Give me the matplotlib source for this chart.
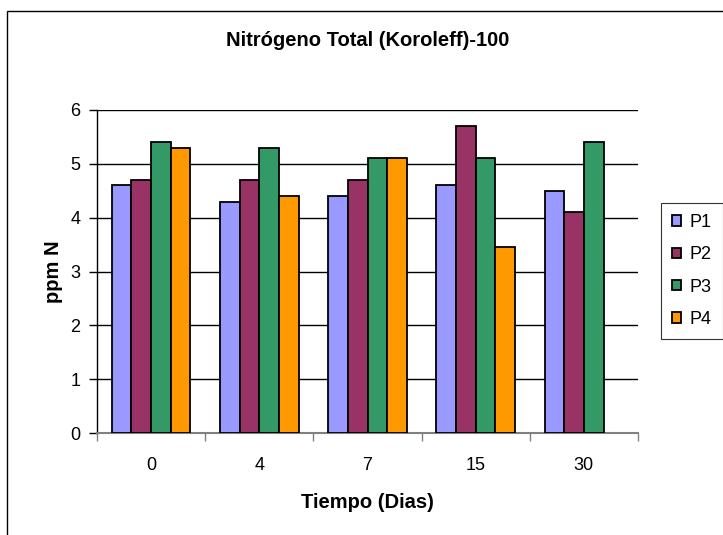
import matplotlib.pyplot as plt
import numpy as np
from matplotlib.patches import Rectangle

plt.rcParams["font.family"] = ["Liberation Sans", "DejaVu Sans"]

# Nitrogen total per sampling point over time
dias = ["0", "4", "7", "15", "30"]
series = ["P1", "P2", "P3", "P4"]
p1 = [4.6, 4.3, 4.4, 4.6, 4.5]
p2 = [4.7, 4.7, 4.7, 5.7, 4.1]
p3 = [5.4, 5.3, 5.1, 5.1, 5.4]
p4 = [5.3, 4.4, 5.1, 3.45, np.nan]
colores = ["#9999FF", "#993366", "#339966", "#FF9900"]

fig = plt.figure(figsize=(7.23, 5.35), dpi=100)
ax = fig.add_axes([97 / 723, 1 - 433 / 535, 541 / 723, 323 / 535])

# outer chart frame
fig.patches.append(Rectangle((7 / 723, -0.1), 1.2, 1.1 - 11 / 535,
                             transform=fig.transFigure, fill=False,
                             edgecolor="black", linewidth=1.0))

x = np.arange(len(dias))
w = 1 / 5.5
for i, (vals, col, name) in enumerate(zip([p1, p2, p3, p4], colores, series)):
    ax.bar(x - 2 * w + (i + 0.5) * w, vals, width=w, color=col,
           edgecolor="black", linewidth=1.3, label=name, zorder=3)

ax.set_xlim(-0.5, len(dias) - 0.5)
ax.set_ylim(0, 6)
ax.set_yticks(range(7))
ax.set_xticks(x)
ax.set_xticklabels(dias)
ax.set_xticks(np.arange(-0.5, len(dias)), minor=True)
ax.tick_params(axis="x", which="major", length=0, pad=17, labelsize=13)
ax.tick_params(axis="x", which="minor", length=6, width=1, color="#808080")
ax.tick_params(axis="y", length=6, width=1, labelsize=13, pad=6)
ax.grid(axis="y", color="black", linewidth=1, zorder=0)

ax.spines["top"].set_visible(False)
ax.spines["right"].set_visible(False)
ax.spines["bottom"].set_color("#808080")
ax.spines["bottom"].set_linewidth(1.5)
ax.spines["left"].set_linewidth(1)

ax.set_title("Nitrógeno Total (Koroleff)-100", fontsize=14.5, fontweight="bold", pad=46)
ax.set_ylabel("ppm N", fontsize=14.5, fontweight="bold", labelpad=5)
ax.set_xlabel("Tiempo (Dias)", fontsize=14.5, fontweight="bold", labelpad=14)

leg = ax.legend(loc="upper left", bbox_to_anchor=(661 / 723, 1 - 203 / 535),
                bbox_transform=fig.transFigure, fontsize=13, frameon=True,
                fancybox=False, edgecolor="black", handlelength=0.5,
                handleheight=0.5, handletextpad=0.5, labelspacing=0.85,
                borderpad=0.6, borderaxespad=0)
leg.get_frame().set_linewidth(0.8)

fig.savefig("out.png", dpi=100)
